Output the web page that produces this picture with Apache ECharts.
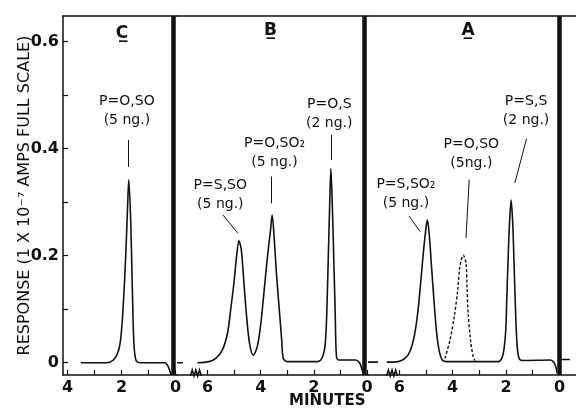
<!DOCTYPE html>
<html>
<head>
<meta charset="utf-8">
<script src="https://cdn.jsdelivr.net/npm/echarts@6/dist/echarts.min.js"></script>
<style>
  html, body { margin: 0; background: #fff; }
  #chart { width: 576px; height: 409px; }
</style>
</head>
<body>
<div id="chart"></div>
<script>
// traces: [minutes, response]
// null response = pen lifted (gap in the trace)
const traceC = [
  [3.51, 0], [2.55, 0], [2.30, 0.005], [2.12, 0.021], [2.02, 0.049], [1.93, 0.111],
  [1.84, 0.204], [1.77, 0.298], [1.73, 0.342], [1.66, 0.267], [1.60, 0.142],
  [1.54, 0.036], [1.46, 0.004], [1.31, 0], [0.39, 0], [0.27, -0.007], [0.18, -0.020],
  [0.13, -0.023]
]
const traceB = [
  [7.15, 0], [6.93, 0], [6.7, null],
  [6.38, 0], [5.94, 0.002], [5.69, 0.008], [5.44, 0.024], [5.25, 0.055], [5.13, 0.099],
  [5.01, 0.148], [4.91, 0.198], [4.82, 0.228], [4.73, 0.211], [4.63, 0.148],
  [4.53, 0.086], [4.42, 0.036], [4.28, 0.014], [4.13, 0.030], [4.01, 0.067],
  [3.88, 0.130], [3.76, 0.192], [3.63, 0.248], [3.57, 0.276], [3.48, 0.223],
  [3.40, 0.161], [3.30, 0.099], [3.21, 0.042], [3.15, 0.008], [2.99, 0.002],
  [1.86, 0.002], [1.67, 0.011], [1.57, 0.036], [1.51, 0.099], [1.46, 0.192],
  [1.41, 0.285], [1.36, 0.363], [1.30, 0.285], [1.25, 0.192], [1.20, 0.099],
  [1.15, 0.011], [1.07, 0.005], [0.42, 0.005], [0.27, -0.001], [0.18, -0.014],
  [0.11, -0.023]
]
const traceA = [
  [7.17, 0.001], [6.80, 0.001], [6.6, null],
  [6.47, 0.001], [6.04, 0.002], [5.79, 0.008], [5.60, 0.021], [5.44, 0.049],
  [5.31, 0.092], [5.20, 0.148], [5.10, 0.204], [5.02, 0.242], [4.95, 0.267],
  [4.88, 0.242], [4.79, 0.179], [4.70, 0.117], [4.61, 0.061], [4.51, 0.024],
  [4.39, 0.005], [4.22, 0.002], [2.29, 0.002], [2.16, 0.008], [2.08, 0.024],
  [2.01, 0.061], [1.97, 0.123], [1.92, 0.198], [1.87, 0.261], [1.81, 0.304],
  [1.75, 0.261], [1.70, 0.186], [1.65, 0.105], [1.59, 0.036], [1.51, 0.008],
  [1.35, 0.004], [0.36, 0.005], [0.23, 0.002], [0.14, -0.007], [0.08, -0.020],
  [0.0, null],
  [-0.08, 0.006], [-0.39, 0.006]
]
// P=O,SO run overlaid on panel A (dashed)
const traceADashed = [
  [4.29, 0.008], [4.10, 0.042], [3.94, 0.086], [3.81, 0.136], [3.73, 0.179],
  [3.60, 0.201], [3.50, 0.186], [3.46, 0.140], [3.42, 0.092], [3.33, 0.042],
  [3.23, 0.011], [3.16, 0.004]
]

const panelNames = ['C', 'B', 'A']
const xRanges = [[-0.056, 4.167], [-0.037, 7.15], [-0.62, 7.17]]
const xTickValues = [[0, 1, 2, 3, 4], [0, 1, 2, 3, 4, 5, 6], [0, 1, 2, 3, 4, 5, 6]]
const xLabelValues = [[0, 2, 4], [0, 2, 4, 6], [0, 2, 4, 6]]
const yTickValues = [0, 0.1, 0.2, 0.3, 0.4, 0.5, 0.6]
const yLabelValues = [0, 0.2, 0.4, 0.6]
const yRange = [-0.023, 0.648]

// solvent / injection marks (minutes)
const injectMarks = [0.09, 0.09, 0.02]
// axis break positions (minutes)
const axisBreaks = [null, 6.44, 6.27]
// panel letter positions [minutes, response]
const titlePos = [[1.98, 0.616], [3.63, 0.62], [3.42, 0.62]]

// peak labels: text, label centre, leader start, leader end
const peakLabels = [
  [
    ['P=O,SO\n(5 ng.)', [1.80, 0.471], [1.76, 0.416], [1.76, 0.366]]
  ],
  [
    ['P=S,SO\n(5 ng.)', [5.52, 0.314], [5.42, 0.276], [4.86, 0.242]],
    ['P=O,SO\u2082\n(5 ng.)', [3.48, 0.392], [3.61, 0.348], [3.61, 0.298]],
    ['P=O,S\n(2 ng.)', [1.42, 0.466], [1.34, 0.426], [1.34, 0.379]]
  ],
  [
    ['P=S,SO\u2082\n(5 ng.)', [5.75, 0.315], [5.63, 0.274], [5.22, 0.245]],
    ['P=O,SO\n(5ng.)', [3.30, 0.391], [3.38, 0.342], [3.50, 0.233]],
    ['P=S,S\n(2 ng.)', [1.25, 0.470], [1.23, 0.419], [1.67, 0.336]]
  ]
]

const traces = [traceC, traceB, traceA]
const ink = '#111'
const font = 'DejaVu Sans'
const gridBoxes = [
  { left: 63, width: 114 },
  { left: 177, width: 191 },
  { left: 368, width: 208 }
]

const chart = echarts.init(document.getElementById('chart'))

const grid = gridBoxes.map(g => ({ left: g.left, width: g.width, top: 16, height: 359 }))

const xAxis = []
panelNames.forEach((p, i) => {
  xAxis.push({
    type: 'value',
    gridIndex: i,
    inverse: true,
    min: xRanges[i][0],
    max: xRanges[i][1],
    axisLine: { show: true, onZero: false, lineStyle: { color: ink, width: 1.5 } },
    axisTick: { show: true, inside: true, length: 5, customValues: xTickValues[i], lineStyle: { color: ink, width: 1.2 } },
    axisLabel: {
      customValues: xLabelValues[i],
      margin: 5,
      color: ink,
      fontFamily: font,
      fontSize: 16,
      fontWeight: 'bold'
    },
    splitLine: { show: false }
  })
  xAxis.push({
    type: 'value',
    gridIndex: i,
    position: 'top',
    inverse: true,
    min: xRanges[i][0],
    max: xRanges[i][1],
    axisLine: { show: true, onZero: false, lineStyle: { color: ink, width: 1.5 } },
    axisTick: { show: false },
    axisLabel: { show: false },
    splitLine: { show: false }
  })
})

const yAxis = panelNames.map((p, i) => ({
  type: 'value',
  gridIndex: i,
  min: yRange[0],
  max: yRange[1],
  show: i === 0,
  name: i === 0 ? 'RESPONSE (1 X 10\u207B\u2077 AMPS FULL SCALE)' : '',
  nameLocation: 'middle',
  nameGap: 30,
  nameMoveOverlap: false,
  nameTextStyle: { color: ink, fontFamily: font, fontSize: 16 },
  axisLine: { show: true, onZero: false, lineStyle: { color: ink, width: 1.5 } },
  axisTick: { show: true, inside: true, length: 5, customValues: yTickValues, lineStyle: { color: ink, width: 1.2 } },
  axisLabel: {
    customValues: yLabelValues,
    margin: 4,
    color: ink,
    fontFamily: font,
    fontSize: 16,
    fontWeight: 'bold',
    formatter: v => (v === 0 ? '0' : v.toFixed(1))
  },
  splitLine: { show: false }
}))

const series = []
panelNames.forEach((p, i) => {
  const lines = [{ xAxis: injectMarks[i], lineStyle: { width: 4.5, color: ink, type: 'solid' } }]
  peakLabels[i].forEach(l => {
    lines.push([{ coord: l[2] }, { coord: l[3] }])
  })
  const points = [{
    name: p + '\u0332',
    coord: titlePos[i],
    label: { fontSize: 17, fontWeight: 'bold' }
  }]
  peakLabels[i].forEach(l => {
    points.push({ name: l[0], coord: l[1] })
  })
  if (axisBreaks[i] != null) {
    points.push({
      name: '',
      coord: [axisBreaks[i], yRange[0]],
      symbol: 'path://M0,6L2,0L4,6L6,0L8,6L10,0L12,6',
      symbolSize: [11, 6],
      symbolOffset: [0, -2],
      itemStyle: { color: 'none', borderColor: ink, borderWidth: 1.2 },
      label: { show: false }
    })
  }
  series.push({
    type: 'line',
    xAxisIndex: i * 2,
    yAxisIndex: i,
    data: traces[i],
    smooth: 0.3,
    symbol: 'none',
    lineStyle: { color: ink, width: 1.6 },
    silent: true,
    markLine: {
      silent: true,
      symbol: 'none',
      label: { show: false },
      lineStyle: { color: ink, width: 1, type: 'solid' },
      data: lines
    },
    markPoint: {
      silent: true,
      symbol: 'rect',
      symbolSize: 1,
      itemStyle: { color: 'rgba(0,0,0,0)' },
      label: {
        show: true,
        position: 'inside',
        formatter: '{b}',
        color: ink,
        fontFamily: font,
        fontSize: 14,
        lineHeight: 19,
        align: 'center'
      },
      data: points
    }
  })
})
series.push({
  type: 'line',
  xAxisIndex: 4,
  yAxisIndex: 2,
  data: traceADashed,
  smooth: 0.3,
  symbol: 'none',
  silent: true,
  lineStyle: { color: ink, width: 1.4, type: [3, 2] }
})

chart.setOption({
  animation: false,
  backgroundColor: '#fff',
  grid: grid,
  xAxis: xAxis,
  yAxis: yAxis,
  series: series,
  graphic: [{
    type: 'text',
    left: 289,
    top: 394,
    style: { text: 'MINUTES', fill: ink, font: 'bold 15px "DejaVu Sans"' }
  }]
})
</script>
</body>
</html>
